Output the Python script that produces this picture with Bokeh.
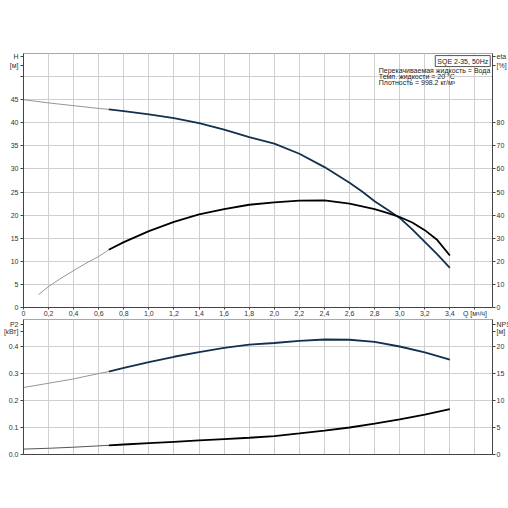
from bokeh.plotting import figure
from bokeh.models import Range1d, LinearAxis, FixedTicker, Label
from bokeh.layouts import column
from bokeh.embed import file_html
from bokeh.resources import INLINE

# ---------------- data ----------------
Q_TICKS = [0, 0.2, 0.4, 0.6, 0.8, 1.0, 1.2, 1.4, 1.6, 1.8, 2.0, 2.2, 2.4, 2.6, 2.8, 3.0, 3.2, 3.4, 3.6]
Q_TICK_LABELS = ["0", "0,2", "0,4", "0,6", "0,8", "1,0", "1,2", "1,4", "1,6", "1,8",
                 "2,0", "2,2", "2,4", "2,6", "2,8", "3,0", "3,2", "3,4", "Q [м³/ч]"]

H_TICKS = [0, 5, 10, 15, 20, 25, 30, 35, 40, 45, 50]
H_TICK_LABELS = ["0", "5", "10", "15", "20", "25", "30", "35", "40", "45", ""]
ETA_TICKS = [0, 10, 20, 30, 40, 50, 60, 70, 80]
ETA_TICK_LABELS = ["0", "10", "20", "30", "40", "50", "60", "70", "80"]
P2_TICKS = [0, 0.1, 0.2, 0.3, 0.4]
P2_TICK_LABELS = ["0.0", "0.1", "0.2", "0.3", "0.4"]
NPSH_TICKS = [0, 5, 10, 15, 20]
NPSH_TICK_LABELS = ["0", "5", "10", "15", "20"]

# axis names, shown beside the top of each axis
H_NAME = ["H", "[м]"]
ETA_NAME = ["eta", "[%]"]
P2_NAME = ["P2", "[кВт]"]
NPSH_NAME = ["NPSH", "[м]"]

Q_H = [0.0, 0.2, 0.4, 0.6, 0.68, 0.8, 1.0, 1.2, 1.4, 1.6, 1.8, 2.0, 2.2, 2.4, 2.6, 2.7, 2.8, 2.9, 3.0,
       3.1, 3.2, 3.3, 3.4]
H_M = [45.0, 44.3, 43.7, 43.1, 42.9, 42.5, 41.8, 41.0, 39.9, 38.5, 36.9, 35.5, 33.3, 30.4, 27.0, 25.1, 23.0,
       21.2, 19.4, 16.9, 14.2, 11.5, 8.6]

Q_ETA = [0.12, 0.2, 0.3, 0.4, 0.5, 0.6, 0.68, 0.8, 1.0, 1.2, 1.4, 1.6, 1.8, 2.0, 2.2, 2.4, 2.6, 2.8, 2.9,
         3.0, 3.1, 3.2, 3.3, 3.4]
ETA_PCT = [5.6, 9.1, 12.7, 16.0, 19.2, 22.1, 25.0, 28.3, 33.1, 37.1, 40.3, 42.6, 44.5, 45.5, 46.3, 46.4,
           45.0, 42.6, 41.0, 39.2, 36.8, 33.5, 29.2, 22.5]

Q_PUMP = [0.0, 0.2, 0.4, 0.6, 0.68, 0.8, 1.0, 1.2, 1.4, 1.6, 1.8, 2.0, 2.2, 2.4, 2.6, 2.8, 3.0, 3.2, 3.4]
P2_KW = [0.248, 0.264, 0.280, 0.300, 0.307, 0.321, 0.342, 0.362, 0.379, 0.395, 0.407, 0.413, 0.421, 0.426,
         0.425, 0.417, 0.400, 0.378, 0.351]
NPSH_M = [1.0, 1.15, 1.35, 1.6, 1.7, 1.85, 2.1, 2.35, 2.6, 2.85, 3.1, 3.42, 3.9, 4.42, 5.0, 5.7, 6.5, 7.4, 8.4]

DUTY_START = 0.68  # start of the thick (recommended) part of each curve

TITLE = "SQE 2-35, 50Hz"
INFO_LINES = ["Перекачиваемая жидкость = Вода", "Темп. жидкости = 20 °C", "Плотность = 998.2 кг/м³"]

# ---------------- styling ----------------
FONT = "Liberation Sans"
FS = "7px"
NAVY = "#13304f"
BLACK = "#000000"
THIN = "#8a8a8a"
GRID = "#cfcfcf"
AXIS = "#444444"


def split(qs, vs):
    a = [(q, v) for q, v in zip(qs, vs) if q <= DUTY_START]
    b = [(q, v) for q, v in zip(qs, vs) if q >= DUTY_START]
    return [x for x, _ in a], [y for _, y in a], [x for x, _ in b], [y for _, y in b]


def style_axis(ax, tick_out=3, standoff=2):
    ax.axis_line_color = AXIS
    ax.major_tick_line_color = AXIS
    ax.minor_tick_line_color = None
    ax.major_tick_in = 0
    ax.major_tick_out = tick_out
    ax.major_label_standoff = standoff
    ax.major_label_text_font = FONT
    ax.major_label_text_font_size = FS
    ax.major_label_text_color = "#333333"


def set_ticks(ax, ticks, labels, name, name_pos):
    ax.ticker = FixedTicker(ticks=list(ticks) + list(name_pos))
    ax.major_label_overrides = dict(zip(list(ticks) + list(name_pos), list(labels) + list(name)))


def make_fig(width, height, y_end, top, bottom, right):
    p = figure(width=width, height=height,
               x_range=Range1d(0, 3.74), y_range=Range1d(0, y_end),
               output_backend="svg", toolbar_location=None,
               min_border_left=23, min_border_right=right, min_border_top=top, min_border_bottom=bottom)
    p.width_policy = "fixed"
    p.outline_line_color = "#a8a8a8"
    p.background_fill_color = "white"
    p.border_fill_color = "white"
    p.xgrid.grid_line_color = GRID
    p.ygrid.grid_line_color = GRID
    p.xgrid.ticker = FixedTicker(ticks=Q_TICKS)
    for ax in p.xaxis + p.yaxis:
        style_axis(ax)
    return p


# ---------------- top panel: H and eta ----------------
top = make_fig(518, 319, 55, 53, 12, 25)
top.xaxis.ticker = FixedTicker(ticks=Q_TICKS)
top.xaxis.major_label_overrides = dict(zip(Q_TICKS, Q_TICK_LABELS))
top.xaxis.major_tick_out = 2
top.xaxis.major_label_standoff = 0
set_ticks(top.yaxis[0], H_TICKS, H_TICK_LABELS, H_NAME, [54.3, 52.3])
top.ygrid.ticker = FixedTicker(ticks=H_TICKS)
top.extra_y_ranges = {"eta": Range1d(0, 110)}
eta_axis = LinearAxis(y_range_name="eta")
style_axis(eta_axis, standoff=1)
set_ticks(eta_axis, ETA_TICKS, ETA_TICK_LABELS, ETA_NAME, [108.6, 104.6])
top.add_layout(eta_axis, "right")

qa, ha, qb, hb = split(Q_H, H_M)
top.line(qa, ha, line_color=THIN, line_width=0.9)
top.line(qb, hb, line_color=NAVY, line_width=1.8)
qa, ea, qb, eb = split(Q_ETA, ETA_PCT)
top.line(qa, ea, line_color=THIN, line_width=0.9, y_range_name="eta")
top.line(qb, eb, line_color=BLACK, line_width=1.8, y_range_name="eta")

top.add_layout(Label(x=3.722, y=54.55, text=TITLE, text_align="right", text_baseline="top",
                     text_font=FONT, text_font_size=FS, text_color="#222222",
                     border_line_color="#555555", background_fill_color="white", padding=2))
for i, line in enumerate(INFO_LINES):
    top.add_layout(Label(x=2.833, y=51.3 - 1.3 * i, text=line, text_align="left", text_baseline="middle",
                         text_font=FONT, text_font_size=FS, text_color="#222222"))

# ---------------- bottom panel: P2 and NPSH ----------------
bot = make_fig(518, 145, 0.5, 0, 10, 25)
bot.xaxis.ticker = FixedTicker(ticks=[])
bot.xaxis.major_tick_out = 0
bot.xaxis.major_label_standoff = 0
set_ticks(bot.yaxis[0], P2_TICKS, P2_TICK_LABELS, P2_NAME, [0.483, 0.457])
bot.ygrid.ticker = FixedTicker(ticks=P2_TICKS)
bot.extra_y_ranges = {"npsh": Range1d(0, 25)}
npsh_axis = LinearAxis(y_range_name="npsh")
style_axis(npsh_axis, standoff=1)
set_ticks(npsh_axis, NPSH_TICKS, NPSH_TICK_LABELS, NPSH_NAME, [24.15, 22.85])
bot.add_layout(npsh_axis, "right")

qa, pa, qb, pb = split(Q_PUMP, P2_KW)
bot.line(qa, pa, line_color=THIN, line_width=0.9)
bot.line(qb, pb, line_color=NAVY, line_width=1.8)
qa, na, qb, nb = split(Q_PUMP, NPSH_M)
bot.line(qa, na, line_color="#555555", line_width=1.0, y_range_name="npsh")
bot.line(qb, nb, line_color=BLACK, line_width=1.8, y_range_name="npsh")

# the chart is wider than the window at the right, as in the reference: clip it there
layout = column(top, bot, width=508, styles={"overflow": "hidden"})
open("out.html", "w").write(file_html(layout, INLINE))
